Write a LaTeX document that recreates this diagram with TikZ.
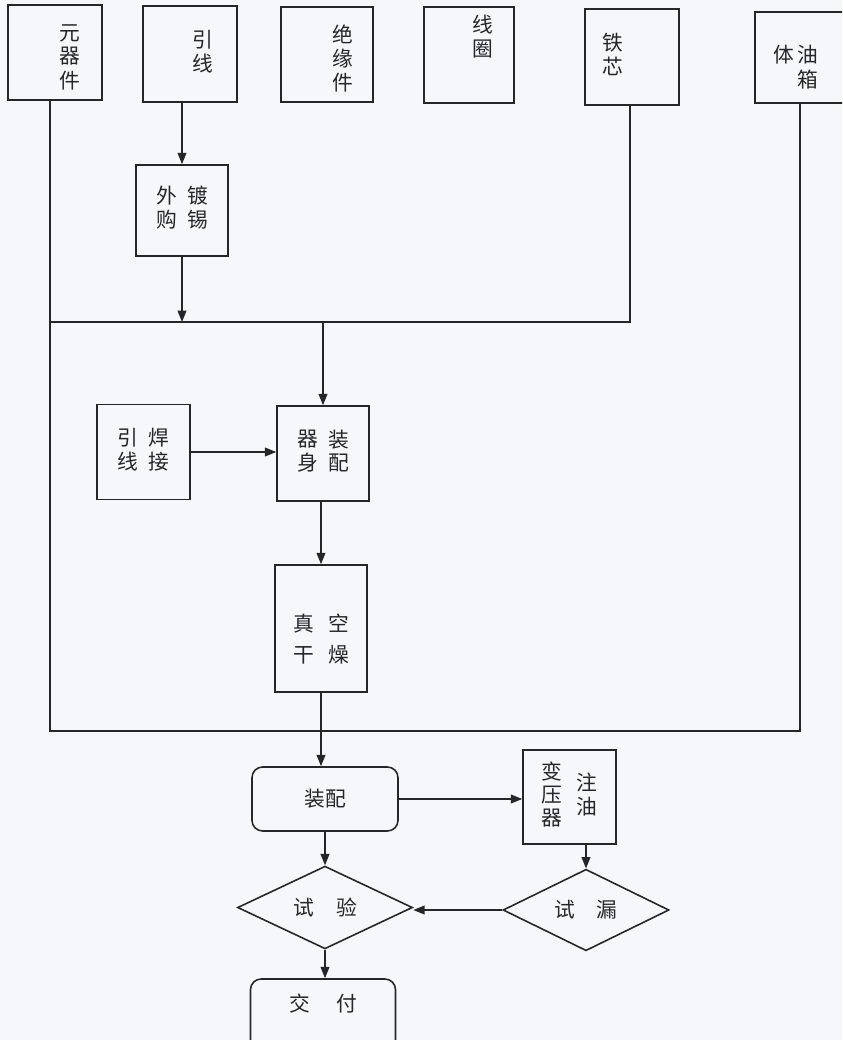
\documentclass[tikz,border=0pt]{standalone}
\usepackage{fontspec}
\newfontfamily\cjk{Noto Sans CJK SC}
\usetikzlibrary{arrows.meta,shapes.geometric}
\definecolor{paper}{RGB}{245,247,251}
\newcommand{\vcol}[1]{\begin{tabular}{@{}c@{}}#1\end{tabular}}

\begin{document}
\begin{tikzpicture}[x=0.02cm,y=-0.02cm,line width=0.9pt,color=black!85,
	font=\cjk\fontsize{11.8}{12.8}\selectfont,
	box/.style={rectangle,draw,inner sep=0pt},
	rbox/.style={rectangle,draw,rounded corners=6pt,inner sep=0pt},
	dbox/.style={diamond,draw,inner sep=0pt},
	arr/.style={-{Triangle[length=6.5pt,width=5pt]}}]
	\fill[paper] (0,0) rectangle (842,1040);
	\useasboundingbox (0,0) rectangle (842,1040);
	\clip (0,0) rectangle (842,1040);
	% parts
	\node (yqj) at ( 55, 52.5)	[box, minimum width=1.88cm, minimum height=1.90cm,
		label={[name=yqj t, xshift=8.5pt, yshift=-4.2pt]center:\vcol{元\\器\\件}}]	{};
	\node (yx)  at (190, 54)	[box, minimum width=1.88cm, minimum height=1.92cm,
		label={[name=yx t, xshift=7.4pt]center:\vcol{引\\线}}]	{};
	\node (jyj) at (327, 54.5)	[box, minimum width=1.84cm, minimum height=1.90cm,
		label={[name=jyj t, xshift=9pt, yshift=-3.7pt]center:\vcol{绝\\缘\\件}}]	{};
	\node (xq)  at (469, 55)	[box, minimum width=1.80cm, minimum height=1.92cm,
		label={[name=xq t, xshift=8pt, yshift=9pt]center:\vcol{线\\圈}}]	{};
	\node (tx)  at (632, 57)	[box, minimum width=1.88cm, minimum height=1.92cm,
		label={[name=tx t, xshift=-10.8pt]center:\vcol{铁\\芯}}]	{};
	\node (yxt) at (801.5, 57.5)	[box, minimum width=1.86cm, minimum height=1.82cm,
		label={[name=yxt t, xshift=-3.4pt, yshift=-7pt]center:\begin{tabular}{@{}c@{\hspace{2pt}}c@{}}体&油\\&箱\end{tabular}}]	{};
	\node (wg)  at (182, 210.5)	[box, minimum width=1.84cm, minimum height=1.82cm]	{\vcol{外\\购}\hspace{6pt}\vcol{镀\\锡}};
	% body
	\node (hj)  at (143.5, 452)	[box, minimum width=1.86cm, minimum height=1.90cm]	{\vcol{引\\线}\hspace{6pt}\vcol{焊\\接}};
	\node (qs)  at (323, 453.5)	[box, minimum width=1.84cm, minimum height=1.90cm]	{\vcol{器\\身}\hspace{6pt}\vcol{装\\配}};
	\node (gz)  at (321, 628.5)	[box, minimum width=1.84cm, minimum height=2.54cm,
		label={[name=gz t, align=center, yshift=-6pt]center:真\hspace{8pt}空\\[5pt]干\hspace{8pt}燥}]	{};
	\node (zp)  at (325, 799)	[rbox, minimum width=2.92cm, minimum height=1.28cm]	{装配};
	\node (zy)  at (569.5, 797)	[box, minimum width=1.86cm, minimum height=1.88cm]	{\vcol{变\\压\\器}\hspace{8pt}\vcol{注\\油}};
	\node (sl)  at (586, 910)	[dbox, minimum width=3.32cm, minimum height=1.38cm]	{试\hspace{12pt}漏};
	\node (sy)  at (325, 907.5)	[dbox, minimum width=3.50cm, minimum height=1.42cm]	{试\hspace{12.6pt}验};
	\node (jf)  at (323, 1015)	[rbox, minimum width=2.90cm, minimum height=1.44cm,
		label={[name=jf t, yshift=6.8pt]center:交\hspace{15pt}付}]	{};
	% buses
	\coordinate (b1l) at ( 50, 322);
	\coordinate (b1r) at (630, 322);
	\coordinate (b2l) at ( 50, 731);
	\coordinate (b2r) at (800, 731);
	\draw (yqj.south -| b2l) -- (b2l) -- (b2r) -- (yxt.south -| b2r);
	\draw (tx.south -| b1r) -- (b1r) -- (b1l);
	\draw[arr] (yx.south -| wg.north) -- (wg.north);
	\draw[arr] (wg.south) -- (wg.south |- b1l);
	\draw[arr] (qs.north |- b1l) -- (qs.north);
	\draw[arr] (hj.east) -- (hj.east -| qs.west);
	\draw[arr] (qs.south -| gz.north) -- (gz.north);
	\draw[arr] (gz.south) -- (gz.south |- zp.north);
	\draw[arr] (zp.east) -- (zp.east -| zy.west);
	\draw[arr] (zy.south -| sl.north) -- (sl.north);
	\draw[arr] (sl.west) -- (sl.west -| sy.east);
	\draw[arr] (zp.south) -- (sy.north);
	\draw[arr] (sy.south) -- (sy.south |- jf.north);
\end{tikzpicture}
\end{document}
